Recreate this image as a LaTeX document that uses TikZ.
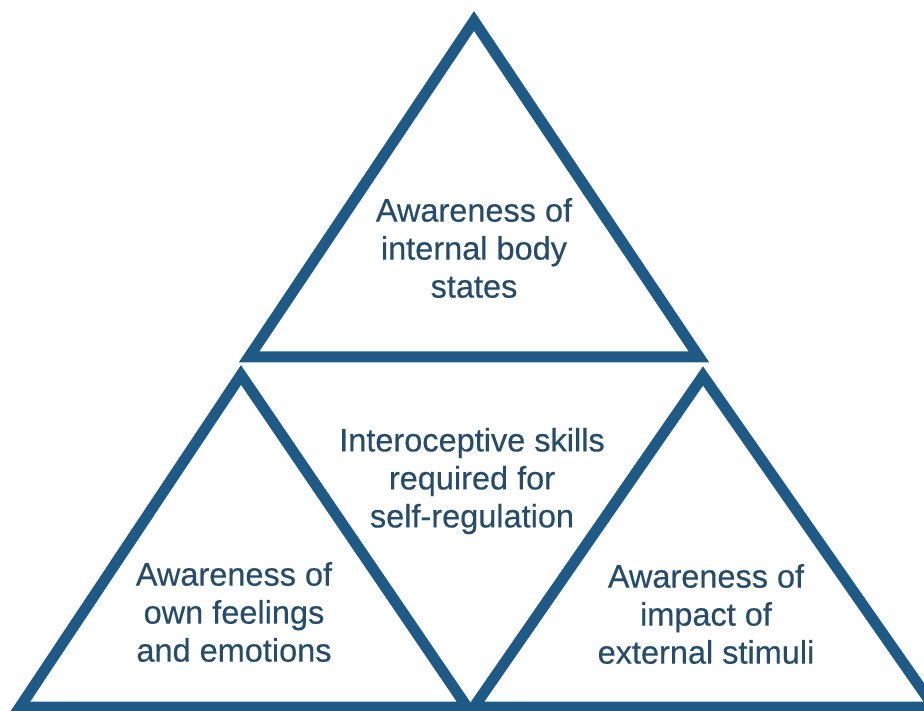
\documentclass[tikz,border=0pt]{standalone}
\usepackage{fontspec}
\setmainfont{Liberation Sans}
\newfontfamily\labelfont{Liberation Sans}[FakeBold=0.4]
\definecolor{edgeblue}{RGB}{31,90,135}
\definecolor{textblue}{RGB}{38,76,108}
\begin{document}
\begin{tikzpicture}[x=1pt,y=-1pt,
  tri/.style={draw=edgeblue,line width=11pt,line join=miter,miter limit=4},
  label/.style={text=textblue,align=center,inner sep=0pt,
    font=\labelfont\fontsize{32.5}{38}\selectfont}]
  \useasboundingbox (0,0) rectangle (924,711);
  % corner points of the three outlined triangles
  \coordinate (tA) at (474,21);
  \coordinate (tL) at (249,357);
  \coordinate (tR) at (699,357);
  \coordinate (lA) at (241,375);
  \coordinate (lL) at (20,707);
  \coordinate (lR) at (467,707);
  \coordinate (rA) at (703,376);
  \coordinate (rL) at (474,707);
  \coordinate (rR) at (934,707);
  \begin{scope}
    \clip (0,0) rectangle (924,711);
    \draw[tri] (tA) -- (tL) -- (tR) -- cycle;
    \draw[tri] (lA) -- (lL) -- (lR) -- cycle;
    \draw[tri] (rA) -- (rL) -- (rR) -- cycle;
  \end{scope}
  % labels
  \node[label] (top) at (474,248) {Awareness of\\internal body\\states};
  \node[label] (mid) at (472,481) {Interoceptive skills\\required for\\self-regulation};
  \node[label] (left) at (234,612) {Awareness of\\own feelings\\and emotions};
  \node[label] (right) at (706,614) {Awareness of\\impact of\\external stimuli};
\end{tikzpicture}
\end{document}
